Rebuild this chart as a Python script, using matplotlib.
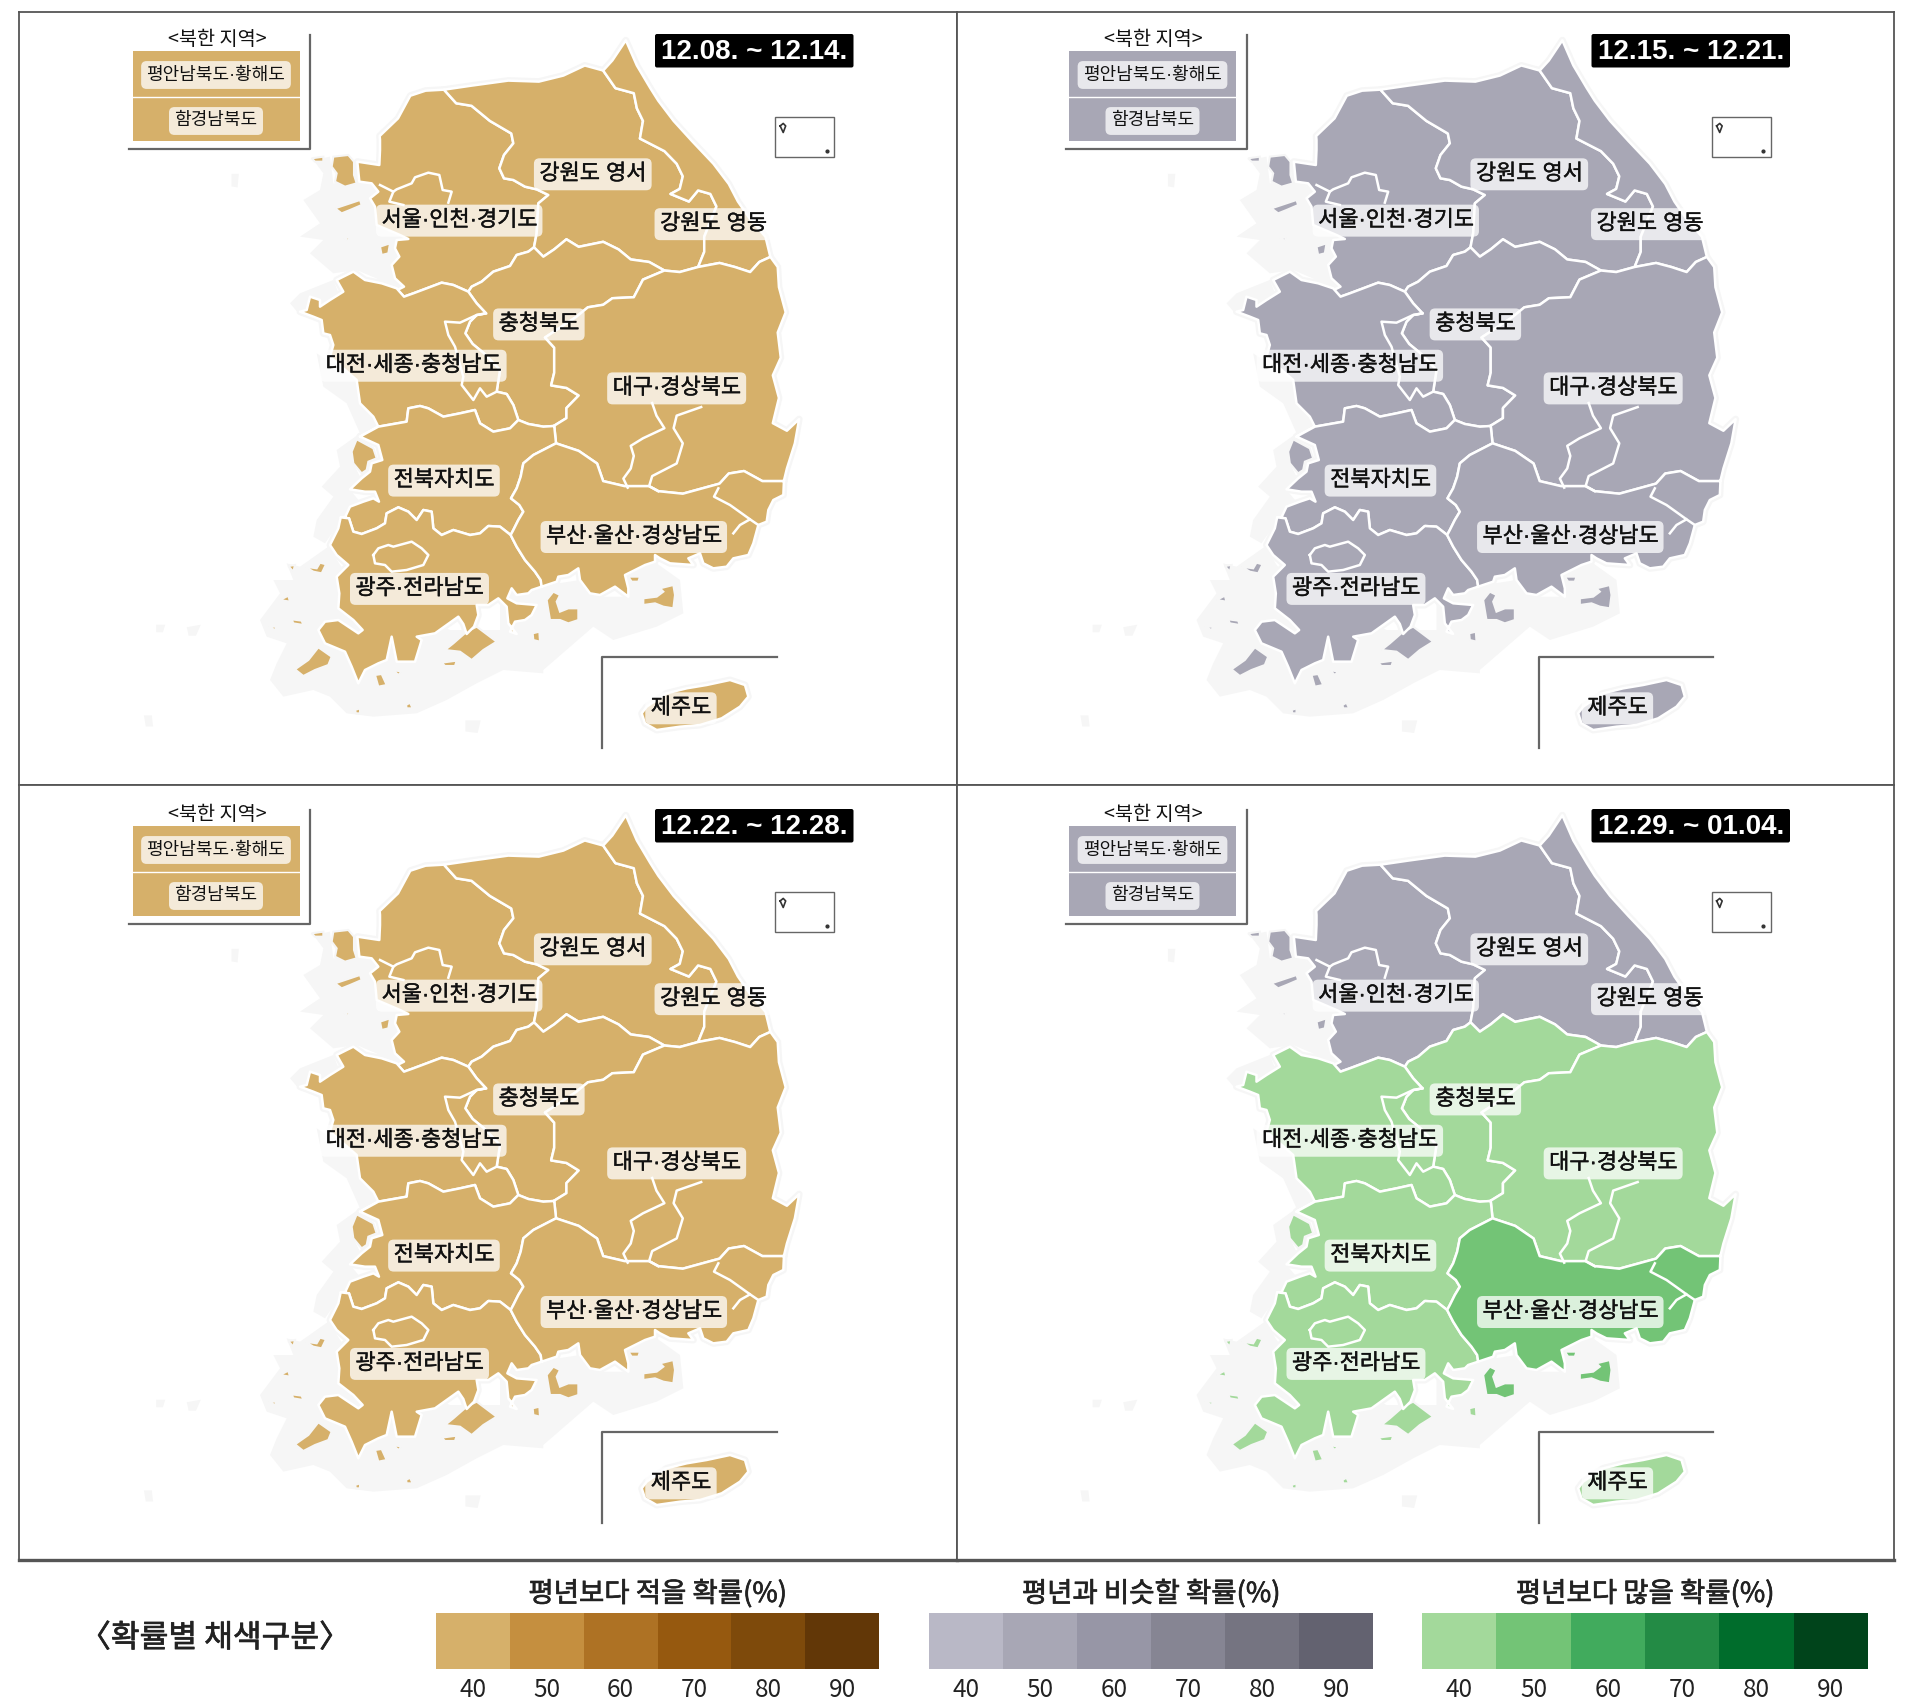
import matplotlib
matplotlib.use('Agg')
import matplotlib.pyplot as plt
import matplotlib.patheffects as pe
from matplotlib.patches import Rectangle, FancyBboxPatch

plt.rcParams['font.family'] = ['Noto Sans CJK KR', 'DejaVu Sans']

FIG_W, FIG_H = 1914, 1701

# colour classes
tan = ['#d6b06a', '#c58f3f', '#ae7224', '#96590f', '#7e4a0b', '#623707']
gray = ['#b9b8c6', '#a8a7b5', '#9796a6', '#868593', '#757481', '#636270']
green = ['#a3d99b', '#73c476', '#41ab5d', '#238b45', '#006d2c', '#00441b']
classes = {'below': tan, 'normal': gray, 'above': green}
levels = [40, 50, 60, 70, 80, 90]

weeks = ['12.08. ~ 12.14.', '12.15. ~ 12.21.', '12.22. ~ 12.28.', '12.29. ~ 01.04.']
regions = ['gyeonggi', 'gangwon_w', 'gangwon_e', 'chungbuk', 'chungnam', 'gyeongbuk',
           'jeonbuk', 'jeonnam', 'gyeongnam', 'jeju', 'north']
week1 = {r: ('below', 40) for r in regions}
week2 = {r: ('normal', 50) for r in regions}
week3 = {r: ('below', 40) for r in regions}
week4 = {'gyeonggi': ('normal', 50), 'gangwon_w': ('normal', 50), 'gangwon_e': ('normal', 50),
         'chungbuk': ('above', 40), 'chungnam': ('above', 40), 'gyeongbuk': ('above', 40),
         'jeonbuk': ('above', 40), 'jeonnam': ('above', 40), 'gyeongnam': ('above', 50),
         'jeju': ('above', 40), 'north': ('normal', 50)}
week_values = [week1, week2, week3, week4]

labels = [('강원도 영서', 968, 342), ('서울·인천·경기도', 750, 434), ('강원도 영동', 1165, 441),
          ('충청북도', 880, 640), ('대전·세종·충청남도', 675, 722), ('대구·경상북도', 1105, 767),
          ('전북자치도', 725, 950), ('부산·울산·경상남도', 1035, 1062), ('광주·전라남도', 685, 1165),
          ('제주도', 1112, 1402)]

# narrow middle dot comes from the first family, hangul from the second
label_font = ['Liberation Sans', 'Noto Sans CJK KR']


# the outlines were traced on four crops of the map, each with its own scale
def z1(pts):
    return [(x / 1.633, y / 1.985) for x, y in pts]

def c4(pts):
    return [(280 + x / 3, 140 + y / 3) for x, y in pts]

def c5(pts):
    return [(250 + x / 3, 430 + y / 3) for x, y in pts]

def c6(pts):
    return [(500 + x / 3, 480 + y / 3) for x, y in pts]

def rev(pts):
    return pts[::-1]


gg_west = c4([(372, 470), (352, 450), (372, 440), (345, 415), (335, 375), (358, 350), (345, 325), (350, 300),
              (385, 297), (360, 285), (290, 255), (285, 200), (270, 175), (295, 155), (275, 130), (238, 125),
              (232, 65), (298, 75), (300, 30), (300, 0)])
gg_top = z1([(620, 270), (650, 235), (670, 190), (695, 180), (725, 178)])
gg_s = c4([(372, 470), (400, 460), (440, 445), (485, 428), (520, 435), (565, 455)])
gg_e1 = c4([(565, 455), (575, 440), (605, 425), (640, 395), (690, 378), (710, 345), (745, 335), (762, 322)])
gg_e2 = c4([(762, 322), (770, 280), (775, 190), (805, 165), (770, 148), (735, 140), (700, 120), (672, 115),
            (658, 85), (672, 45), (700, 10)]) + z1([(835, 265), (800, 240), (770, 210), (745, 205), (725, 178)])
gw_n_w = z1([(725, 178), (770, 170), (830, 160), (880, 162), (920, 150), (955, 130), (985, 140)])
gw_n_e = z1([(985, 140), (1000, 120), (1022, 80)])
gw_east = z1([(1022, 80), (1040, 130), (1062, 175), (1075, 200), (1100, 240), (1130, 280), (1165, 325),
              (1190, 365), (1205, 400), (1225, 435), (1250, 470), (1258, 510)])
gw_ew = z1([(985, 140), (1005, 175), (1035, 185), (1040, 215), (1050, 240), (1045, 275), (1085, 300),
            (1105, 325), (1115, 350), (1110, 375), (1095, 385), (1125, 400), (1140, 378), (1160, 385),
            (1170, 410), (1150, 470), (1150, 500), (1140, 530)])
gw_s1 = c4([(762, 322), (790, 350)]) + z1([(905, 495), (925, 475), (945, 490), (985, 480), (1010, 495),
                                            (1030, 515), (1060, 520), (1085, 537)])
gw_s2 = z1([(1085, 537), (1110, 540), (1140, 530)])
gw_s_e = z1([(1140, 530), (1175, 522), (1200, 530), (1225, 540), (1240, 520), (1258, 510)])
cb_gb = z1([(1085, 537), (1050, 555), (1035, 590), (1000, 592), (985, 605), (960, 610), (940, 630), (890, 670),
            (905, 690), (905, 740), (900, 765), (925, 770), (945, 785), (925, 810), (925, 830), (905, 845)])
cb_cn = c4([(565, 455), (590, 490), (618, 520), (590, 525), (570, 545), (556, 580), (578, 612), (612, 640),
            (660, 690), (650, 755), (680, 762), (700, 795), (715, 840)])
cb_jb = c4([(715, 840), (745, 852), (790, 860), (822, 858)])
cn_coast = c4([(372, 470), (350, 445), (305, 430), (255, 420), (220, 395), (170, 420), (190, 455), (150, 480),
               (120, 500), (120, 480), (90, 470), (80, 510), (60, 515), (100, 530), (125, 540), (130, 580),
               (150, 585), (160, 615), (150, 650), (230, 720), (240, 790), (280, 830), (295, 860), (240, 890)])
cn_jb = c4([(240, 890), (295, 860), (380, 845), (385, 805), (420, 798), (445, 805), (490, 830), (540, 820),
            (585, 810), (600, 850), (640, 875), (690, 865), (715, 840)])
east_gb = z1([(1258, 510), (1270, 530), (1272, 570), (1283, 620), (1270, 660), (1275, 710), (1262, 745),
              (1272, 790), (1262, 840), (1285, 855), (1305, 832), (1298, 880), (1285, 930), (1280, 955)])
gn_n = z1([(908, 880), (945, 895), (975, 920), (985, 955), (1020, 965), (1060, 965), (1075, 975), (1115, 980),
           (1175, 960), (1190, 940), (1215, 935), (1245, 955), (1280, 955)])
jb_gn = z1([(905, 845), (908, 880)]) + c5([(850, 75), (820, 100), (812, 140), (800, 175), (783, 205), (808, 225),
                                            (820, 245), (805, 270), (790, 300), (782, 315)])
jb_coast = c5([(330, 20), (385, 45), (397, 90), (365, 100), (360, 125), (335, 145), (300, 178), (345, 185),
               (375, 185), (387, 215), (370, 205), (340, 215), (300, 230), (285, 262), (272, 262)])
jb_jn = c5([(272, 262), (297, 265), (310, 305), (335, 312), (380, 295), (405, 280), (410, 250), (445, 232),
            (475, 245), (500, 270), (520, 240), (545, 245), (550, 295), (575, 315), (610, 300), (660, 315),
            (690, 310), (715, 288), (750, 290), (782, 315)])
jn_gn = c5([(782, 315), (800, 350), (825, 390), (855, 425), (872, 450), (875, 470)])
jn_coast = c5([(272, 262), (265, 295), (240, 345), (260, 375), (295, 405), (260, 440), (268, 490), (265, 535),
               (310, 570), (338, 600), (325, 610), (265, 570), (225, 575), (205, 600), (225, 640), (285, 665),
               (305, 710), (325, 760), (345, 720), (385, 700), (410, 690), (425, 620), (440, 695), (495, 695),
               (515, 630), (500, 620), (555, 610), (625, 560), (640, 582), (650, 612), (672, 590), (685, 555),
               (680, 525), (715, 525), (745, 505), (770, 530), (775, 580), (800, 612), (780, 605), (795, 575),
               (825, 570), (845, 555), (860, 525), (800, 520), (772, 505), (785, 475), (800, 495), (835, 490),
               (845, 480), (875, 470)])
gn_coast = c6([(852, 0), (850, 45), (820, 60), (805, 90), (800, 125), (775, 135), (760, 190), (745, 225),
               (700, 235), (680, 260), (640, 265), (610, 250), (600, 220), (565, 235), (580, 255), (510, 250),
               (480, 235), (465, 225), (465, 245), (435, 255), (375, 285), (385, 325), (385, 350), (345, 320),
               (300, 345), (270, 340), (240, 300), (235, 265), (205, 285), (175, 290), (170, 305), (125, 320)])

jeju = c6([(425, 700), (440, 680), (500, 640), (560, 625), (620, 615), (690, 600), (735, 615), (745, 650),
           (720, 680), (665, 715), (600, 735), (540, 740), (470, 750), (435, 730)])

outlines = {
    'gyeonggi': gg_west + gg_top + rev(gg_e2) + rev(gg_e1) + rev(gg_s),
    'gangwon_w': gw_n_w + gw_ew + rev(gw_s2) + rev(gw_s1) + gg_e2,
    'gangwon_e': gw_n_e + gw_east + rev(gw_s_e) + rev(gw_ew),
    'chungbuk': gg_e1 + gw_s1 + cb_gb + rev(cb_jb) + rev(cb_cn),
    'chungnam': gg_s + cb_cn + rev(cn_jb) + rev(cn_coast),
    'gyeongbuk': rev(cb_gb) + gw_s2 + gw_s_e + east_gb + rev(gn_n),
    'jeonbuk': cn_jb + cb_jb + jb_gn + rev(jb_jn) + rev(jb_coast),
    'jeonnam': jb_jn + jn_gn + rev(jn_coast),
    'gyeongnam': gn_n + gn_coast + rev(jn_gn) + rev(jb_gn[2:]) + z1([(908, 880)]),
    'jeju': jeju,
}

# islands and small pieces cut off by the coast
islands = {
    'gyeonggi': [
        c4([(160, 50), (205, 45), (222, 65), (222, 105), (230, 130), (195, 140), (165, 125), (170, 100), (155, 80)]),
        c4([(165, 205), (240, 180), (245, 195), (210, 210), (185, 220)]),
        c4([(190, 295), (210, 292), (205, 302)]),
        c4([(300, 320), (330, 310), (325, 340), (305, 345)]),
        c4([(95, 55), (130, 50), (130, 65), (105, 65)]),
    ],
    'jeonbuk': [
        c5([(320, 28), (370, 55), (380, 85), (355, 95), (350, 120), (335, 130), (310, 100), (305, 65)]),
    ],
    'jeonnam': [
        c5([(585, 660), (610, 640), (650, 605), (680, 590), (740, 635), (700, 660), (665, 690), (630, 665)]),
        c5([(135, 718), (175, 690), (205, 652), (245, 680), (235, 705), (195, 720), (160, 738)]),
        c5([(375, 735), (395, 732), (410, 765), (385, 770)]),
        c5([(430, 720), (455, 725), (445, 735)]),
        c5([(575, 698), (620, 692), (615, 708), (585, 708)]),
        c5([(165, 410), (200, 415), (210, 398), (228, 403), (215, 430), (190, 425)]),
        c5([(115, 408), (135, 405), (130, 425)]),
        c5([(90, 510), (115, 497), (120, 515)]),
        c5([(125, 568), (155, 572), (160, 585), (130, 580)]),
        c5([(55, 590), (80, 590), (75, 600)]),
        c5([(315, 840), (330, 835), (330, 850), (318, 850)]),
        c5([(468, 825), (480, 818), (488, 835), (470, 835)]),
        c5([(848, 610), (868, 605), (870, 635), (850, 630)]),
    ],
    'gyeongnam': [
        c6([(385, 290), (420, 290), (415, 305), (395, 305)]),
        c6([(480, 325), (520, 315), (525, 345), (520, 385), (490, 380), (465, 370), (430, 375), (430, 355),
            (470, 350), (490, 335)]),
        c6([(140, 360), (160, 335), (180, 345), (170, 365), (180, 395), (205, 385), (235, 385), (235, 420),
            (205, 430), (180, 420), (150, 420)]),
    ],
}

# white lines inside a province
inner_lines = [
    c4([(300, 135), (340, 155), (350, 148), (395, 130), (405, 112), (445, 98), (478, 105), (488, 150), (515, 155),
        (505, 188)]),
    c4([(340, 155), (328, 185), (370, 195)]),
    c4([(618, 520), (590, 525), (540, 548), (495, 545), (505, 585), (525, 620), (550, 710), (545, 735), (580, 780),
        (600, 745), (620, 770), (650, 755)]),
    z1([(1065, 800), (1072, 825), (1085, 850), (1050, 870), (1030, 885), (1035, 905), (1030, 930), (1018, 950),
        (1025, 968)]),
    z1([(1145, 808), (1105, 825), (1100, 850), (1115, 880), (1105, 920), (1065, 945), (1060, 965), (1075, 975)]),
    c5([(370, 375), (385, 355), (415, 345), (430, 350), (485, 335), (515, 355), (535, 375), (520, 405), (470, 420),
        (425, 425), (405, 405), (375, 400), (370, 375)]),
    c6([(655, 25), (642, 50), (690, 75), (725, 100), (750, 118), (720, 135), (700, 160)]),
    c6([(750, 118), (775, 135)]),
]

# pale grey patches where the small islands are
island_haze = [
    c4([(100, 60), (150, 50), (160, 130), (260, 130), (300, 170), (290, 260), (380, 300), (340, 400), (370, 450),
        (300, 420), (230, 390), (160, 400), (90, 340), (130, 300), (60, 290), (120, 250), (70, 180), (120, 150),
        (130, 100)]),
    c4([(60, 460), (160, 420), (180, 470), (120, 510), (60, 525), (30, 490)]),
    c4([(110, 640), (230, 720), (260, 810), (300, 860), (240, 880), (200, 790), (130, 740)]),
    c5([(260, 60), (330, 10), (310, 100), (335, 150), (300, 180), (330, 215), (290, 240), (260, 290), (225, 340),
        (190, 320), (200, 270), (250, 200), (215, 170), (270, 110)]),
    c5([(235, 350), (150, 410), (110, 400), (130, 450), (70, 450), (90, 490), (30, 570), (50, 620), (110, 640),
        (80, 700), (60, 750), (100, 800), (190, 780), (240, 800), (290, 850), (370, 860), (500, 850), (590, 810),
        (680, 760), (760, 720), (880, 730), (880, 600), (600, 600), (300, 450)]),
    c6([(0, 340), (110, 320), (240, 300), (300, 350), (385, 350), (380, 290), (470, 250), (540, 300), (550, 400),
        (470, 440), (340, 480), (280, 440), (130, 570), (100, 500), (0, 490)]),
    z1([(378, 345), (390, 345), (388, 372), (378, 370)]),
    z1([(235, 1420), (248, 1420), (250, 1442), (238, 1442)]),
    z1([(255, 1240), (270, 1240), (266, 1255), (255, 1255)]),
    z1([(305, 1245), (328, 1240), (320, 1262), (308, 1262)]),
    z1([(760, 1430), (785, 1430), (780, 1455), (760, 1452)]),
]
haze_color = '#f6f6f6'

# the corner box for the northern provinces, title and two rows
north_title = '<북한 지역>'
north_rows = ['평안남북도·황해도', '함경남북도']


def draw_panel(ax, values, week):
    col = lambda r: classes[values[r][0]][levels.index(values[r][1])]
    thick = [pe.withStroke(linewidth=0.3, foreground='#111111')]
    for blob in island_haze:
        ax.fill(*zip(*blob), fc=haze_color, ec='none', zorder=1)
    for name, pts in outlines.items():
        ax.fill(*zip(*pts), fc=haze_color, ec=haze_color, lw=5, zorder=2, joinstyle='round')
    for name, parts in islands.items():
        for pts in parts:
            ax.fill(*zip(*pts), fc=col(name), ec=haze_color, lw=1.5, zorder=3)
    for name, pts in outlines.items():
        ax.fill(*zip(*pts), fc=col(name), ec='white', lw=1.8, zorder=4, joinstyle='round')
    for pts in inner_lines:
        ax.plot(*zip(*pts), color='white', lw=1.8, zorder=5, solid_joinstyle='round')

    for text, x, y in labels:
        px, py = z1([(x, y)])[0]
        ax.text(px, py + 2, text, fontsize=15.8, family=label_font, color='#111111', ha='center', va='center',
                zorder=7, path_effects=thick,
                bbox=dict(boxstyle='round,pad=0.25', fc='white', ec='none', alpha=0.75))

    # north box
    ax.add_patch(Rectangle((132.5, 51.5), 167, 90, fc=col('north'), ec='none', zorder=4))
    ax.plot([132.5, 299.5], [96.7, 96.7], color='white', lw=1, zorder=5)
    ax.plot([129, 310, 310], [149, 149, 35], color='#666666', lw=1.6, zorder=5)
    ax.text(217, 39.5, north_title, fontsize=14.2, ha='center', va='center', color='#111111', zorder=7)
    for text, y in zip(north_rows, [75, 121]):
        ax.text(216, y, text, fontsize=13, family=label_font, ha='center', va='center', color='#111111', zorder=7,
                bbox=dict(boxstyle='round,pad=0.3', fc='white', ec='none', alpha=0.75))

    # date tag
    ax.add_patch(FancyBboxPatch((655, 34), 198.5, 33.5, boxstyle='round,pad=0,rounding_size=2', fc='black', ec='none',
                                zorder=7))
    ax.text(754.5, 52, week, fontsize=20, fontweight='bold', family='Liberation Sans', color='white', ha='center',
            va='center', zorder=8)

    # Ulleung/Dokdo inset
    ax.add_patch(Rectangle((775, 117.5), 59, 40, fc='white', ec='#666666', lw=1, zorder=5))
    ax.plot(*zip(*z1([(1274, 250), (1279, 245), (1283, 250), (1279, 263), (1274, 250)])), color='#333333', lw=1.2,
            zorder=6)
    ax.plot(*z1([(1350, 300)])[0], marker='o', ms=2, color='#333333', zorder=6)

    # Jeju inset frame
    ax.plot([602, 602, 776.5], [748, 657.5, 657.5], color='#666666', lw=1.6, zorder=5)


fig = plt.figure(figsize=(FIG_W / 100, FIG_H / 100), dpi=100)

panel_left = [19, 957]
panel_w = [938, 937]
x_start = [19, 20.5]
panel_top = [12, 785]
panel_h = [773, 775]
y_start = [12, 10]
for i, week in enumerate(weeks):
    r, c = i // 2, i % 2
    ax = fig.add_axes([panel_left[c] / FIG_W, 1 - (panel_top[r] + panel_h[r]) / FIG_H,
                       panel_w[c] / FIG_W, panel_h[r] / FIG_H])
    ax.set_xlim(x_start[c], x_start[c] + panel_w[c])
    ax.set_ylim(y_start[r] + panel_h[r], y_start[r])
    ax.set_xticks([])
    ax.set_yticks([])
    for s in ax.spines.values():
        s.set_color('#555555')
        s.set_linewidth(1.3)
    if r == 1:
        ax.spines['bottom'].set_linewidth(2.4)
    draw_panel(ax, week_values[i], week)

# colour key
key_titles = ['평년보다 적을 확률(%)', '평년과 비슷할 확률(%)', '평년보다 많을 확률(%)']
key_colors = [tan, gray, green]
key_left = [436, 929, 1422]
key_width = [443, 444, 446]
key_thick = [pe.withStroke(linewidth=0.5, foreground='#222222')]
for title, colors, left, width in zip(key_titles, key_colors, key_left, key_width):
    ax = fig.add_axes([left / FIG_W, 1 - 1669 / FIG_H, width / FIG_W, 56 / FIG_H])
    ax.bar(range(6), [1] * 6, width=1.0, color=colors)
    ax.set_xlim(-0.5, 5.5)
    ax.set_ylim(0, 1)
    ax.set_yticks([])
    ax.set_xticks(range(6))
    ax.set_xticklabels(levels, fontsize=17.5, color='#222222')
    ax.tick_params(axis='x', length=0, pad=6)
    for s in ax.spines.values():
        s.set_visible(False)
    ax.set_title(title, fontsize=19.8, color='#222222', pad=8, path_effects=key_thick)

fig.text(215 / FIG_W, 1 - 1638 / FIG_H, '〈확률별 채색구분〉', fontsize=22.5, color='#222222',
         ha='center', va='center', path_effects=key_thick)

fig.savefig('out.png', dpi=100, facecolor='white')
